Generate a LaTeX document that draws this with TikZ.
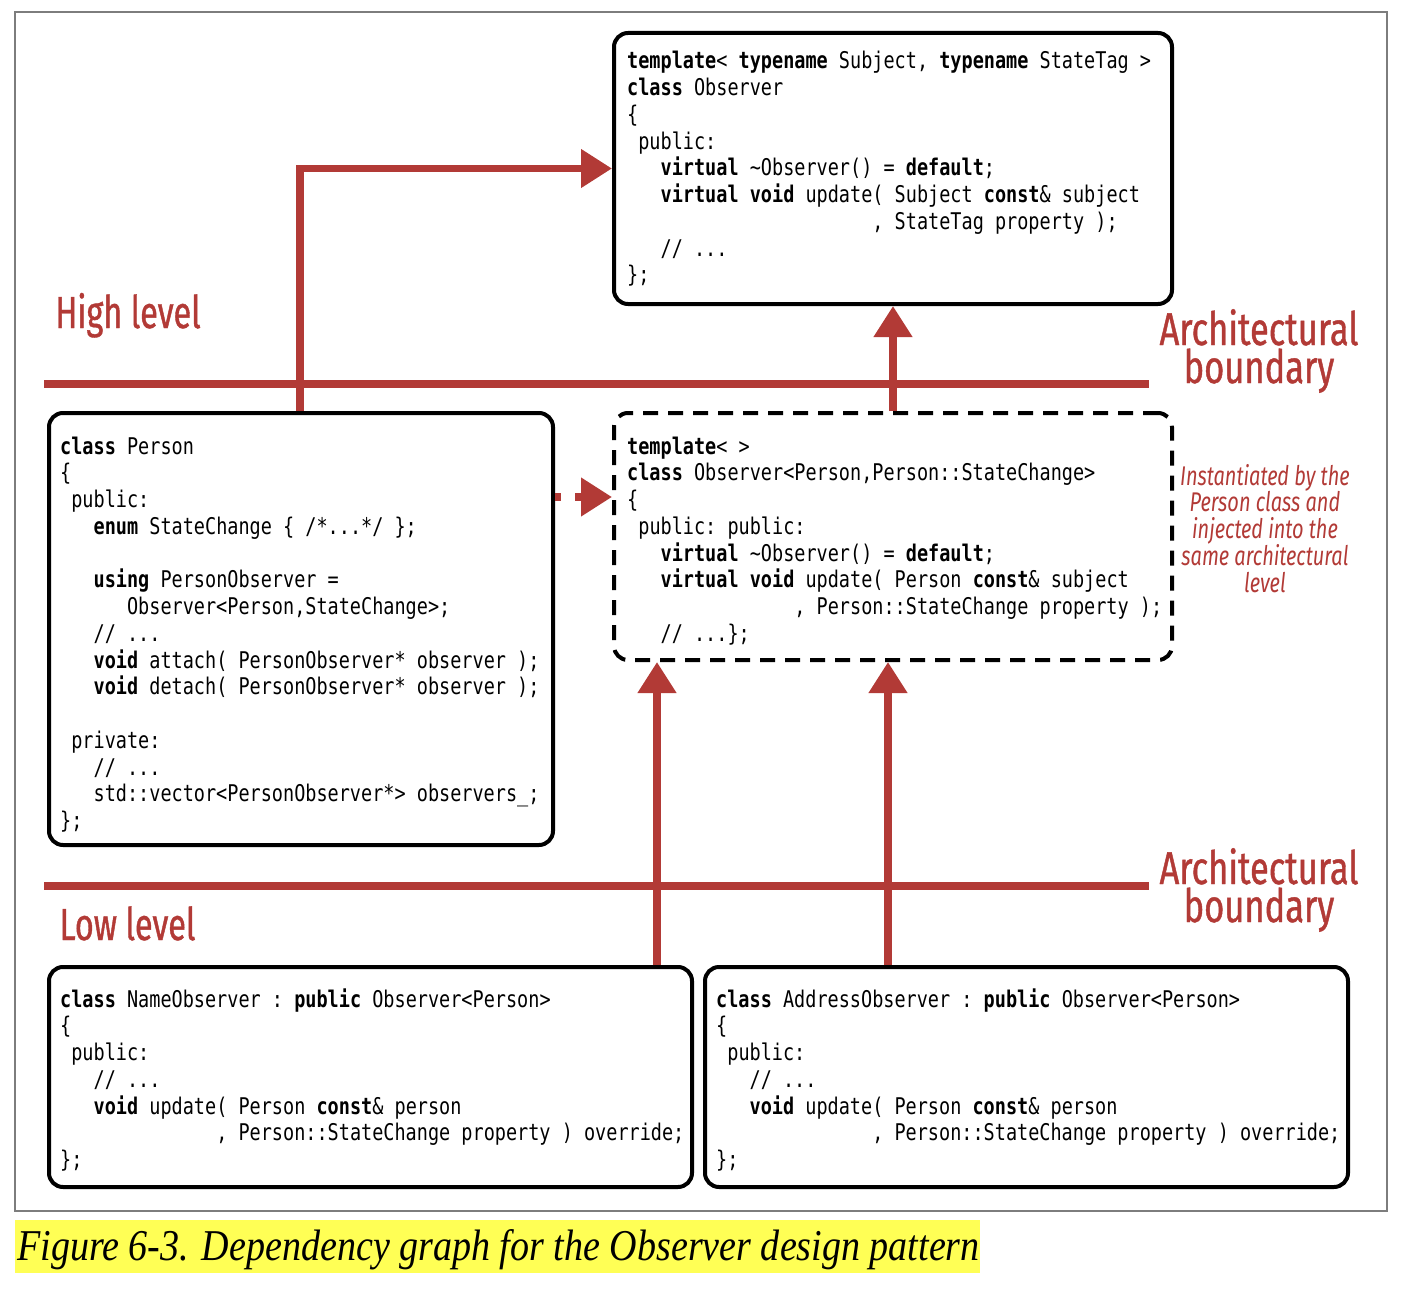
\documentclass[tikz,border=0pt]{standalone}
\usepackage{fontspec}
\usetikzlibrary{arrows.meta}

% fonts: condensed mono for the code, condensed sans for the red labels
\newfontfamily\codefam[FakeStretch=0.805]{DejaVu Sans Mono}
\newfontfamily\labelfam[FakeStretch=0.72, FakeBold=0.9]{Fira Sans}
\newfontfamily\archfam[FakeStretch=0.75, FakeBold=0.9]{Fira Sans}
\newfontfamily\notefam[FakeStretch=0.74]{Fira Sans}
\newfontfamily\capfam[FakeStretch=0.865]{Liberation Serif}

\definecolor{archred}{RGB}{178,58,54}
\definecolor{capyellow}{RGB}{255,255,85}
\definecolor{framegray}{RGB}{125,125,125}

% one character cell of the code font
\newlength\cw
\newcommand\ind[1]{\hspace*{#1\cw}}
\newcommand\kw[1]{\textbf{#1}}
\newcommand\codeblock[1]{\parbox[t]{720pt}{\codefam\fontsize{23pt}{26.75pt}\selectfont
  \frenchspacing\lineskiplimit=-100pt\settowidth\cw{x}\raggedright #1}}
\newcommand\lblfont{\labelfam\fontsize{45pt}{37pt}\selectfont\lineskiplimit=-100pt}
\newcommand\archfont{\archfam\fontsize{46pt}{38pt}\selectfont\lineskiplimit=-100pt}

\tikzset{
  classbox/.style={draw=black, line width=4pt, rounded corners=14pt, fill=white, inner sep=0pt},
  instbox/.style={classbox, dash pattern=on 15pt off 10pt},
  codetxt/.style={inner sep=0pt, anchor=base west},
  conn/.style={draw=archred, line width=7.5pt, -{Triangle[length=31pt,width=37pt]}},
  boundary/.style={draw=archred, line width=7.5pt},
  lbl/.style={text=archred, inner sep=0pt, anchor=base, font=\lblfont},
}

\begin{document}
\begin{tikzpicture}[x=1pt, y=-1pt]
\useasboundingbox (0,0) rectangle (1422,1292);

% outer frame
\draw[framegray, line width=1.5pt] (15,12) rectangle (1387,1211);

% architectural boundaries
\draw[boundary] (44,384) -- (1149,384);
\draw[boundary] (44,886) -- (1149,886);

% class boxes
\node[classbox, minimum width=558pt, minimum height=271pt] (obs) at (893,168.5) {};
\node[classbox, minimum width=504pt, minimum height=432pt] (person) at (301,629) {};
\node[instbox, minimum width=558pt, minimum height=247pt] (inst) at (893,536.5) {};
\node[classbox, minimum width=643pt, minimum height=220pt] (name) at (370.5,1077) {};
\node[classbox, minimum width=643pt, minimum height=220pt] (addr) at (1026.5,1077) {};

% code listings
\node[codetxt] (obstext) at (627,69) {\codeblock{%
\kw{template}< \kw{typename} Subject, \kw{typename} StateTag >\\
\kw{class} Observer\\
\{\\
\ind{1}public:\\
\ind{3}\kw{virtual} \textasciitilde Observer() = \kw{default};\\
\ind{3}\kw{virtual} \kw{void} update( Subject \kw{const}\& subject\\
\ind{22}, StateTag property );\\
\ind{3}// ...\\
\};}};

\node[codetxt] (persontext) at (60,454) {\codeblock{%
\kw{class} Person\\
\{\\
\ind{1}public:\\
\ind{3}\kw{enum} StateChange \{ /*...*/ \};\\
\mbox{}\\
\ind{3}\kw{using} PersonObserver =\\
\ind{6}Observer<Person,StateChange>;\\
\ind{3}// ...\\
\ind{3}\kw{void} attach( PersonObserver* observer );\\
\ind{3}\kw{void} detach( PersonObserver* observer );\\
\mbox{}\\
\ind{1}private:\\
\ind{3}// ...\\
\ind{3}std::vector<PersonObserver*> observers\_;\\
\};}};

\node[codetxt] (insttext) at (627,454) {\codeblock{%
\kw{template}< >\\
\kw{class} Observer<Person,Person::StateChange>\\
\{\\
\ind{1}public: public:\\
\ind{3}\kw{virtual} \textasciitilde Observer() = \kw{default};\\
\ind{3}\kw{virtual} \kw{void} update( Person \kw{const}\& subject\\
\ind{15}, Person::StateChange property );\\
\ind{3}// ...\};}};

\node[codetxt] (nametext) at (60,1007) {\codeblock{%
\kw{class} NameObserver : \kw{public} Observer<Person>\\
\{\\
\ind{1}public:\\
\ind{3}// ...\\
\ind{3}\kw{void} update( Person \kw{const}\& person\\
\ind{14}, Person::StateChange property ) override;\\
\};}};

\node[codetxt] (addrtext) at (716,1007) {\codeblock{%
\kw{class} AddressObserver : \kw{public} Observer<Person>\\
\{\\
\ind{1}public:\\
\ind{3}// ...\\
\ind{3}\kw{void} update( Person \kw{const}\& person\\
\ind{14}, Person::StateChange property ) override;\\
\};}};

% dependency connectors
\coordinate (px) at (300,0);
\coordinate (dy) at (0,497);
\coordinate (nx) at (657,0);
\coordinate (ax) at (888,0);
\draw[conn] (px |- person.north) |- (obs.west);
\draw[conn] (inst.north) -- (obs.south);
\draw[conn, dash pattern=on 6pt off 14pt on 10pt off 10pt] (person.east |- dy) -- (inst.west |- dy);
\draw[conn] (nx |- name.north) -- (nx |- inst.south);
\draw[conn] (ax |- addr.north) -- (ax |- inst.south);

% level and boundary labels
\node[lbl] (high) at (128,328) {High level};
\node[lbl] (low) at (127.5,940) {Low level};
\node[lbl, font=\archfont] (arch1) at (1259,345) {\parbox[t]{230pt}{\centering Architectural\\boundary}};
\node[lbl, font=\archfont] (arch2) at (1259,884) {\parbox[t]{230pt}{\centering Architectural\\boundary}};
\node[lbl, font=\notefam\itshape\fontsize{27pt}{26.5pt}\selectfont] (note) at (1265,485)
  {\parbox[t]{230pt}{\centering Instantiated by the\\Person class and\\injected into the\\same architectural\\level}};

% caption
\fill[capyellow] (15,1220) rectangle (980,1273);
\node[inner sep=0pt, anchor=base west, font=\capfam\itshape\fontsize{44pt}{44pt}\selectfont] (caption) at (17,1260)
  {Figure 6-3. Dependency graph for the Observer design pattern};
\end{tikzpicture}
\end{document}
